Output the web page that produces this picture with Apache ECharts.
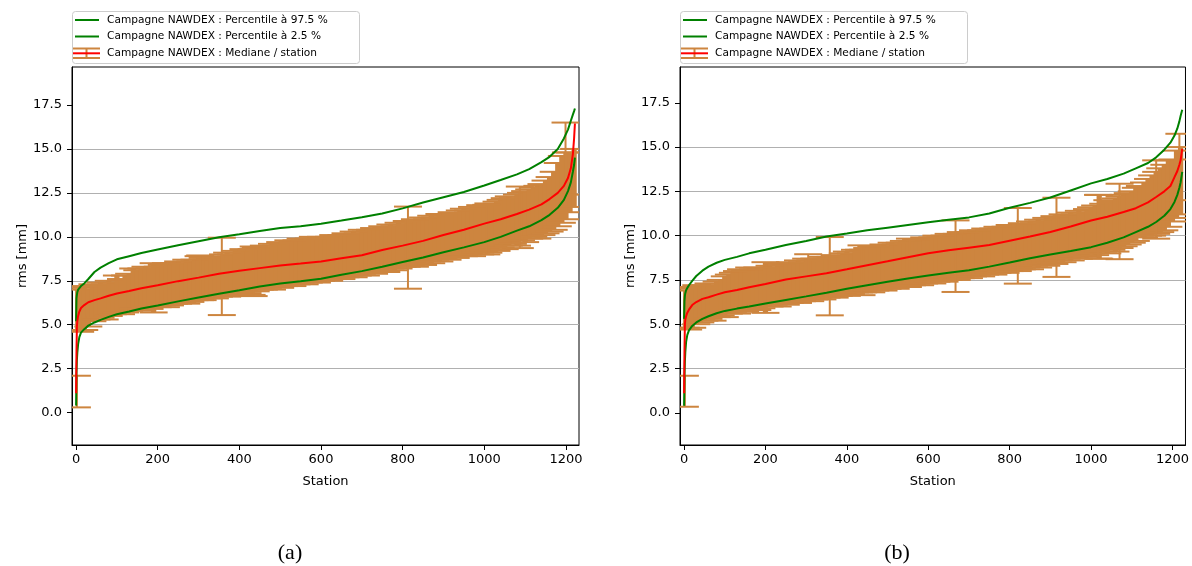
<!DOCTYPE html>
<html><head><meta charset="utf-8">
<script src="https://cdn.jsdelivr.net/npm/echarts@6/dist/echarts.min.js"></script>
<style>html,body{margin:0;padding:0;background:#fff}#c{width:1192px;height:566px}</style>
</head><body><div id="c"></div>
<script>
// ---------- data ----------
const xTicks = [0, 200, 400, 600, 800, 1000, 1200];
const yTicks = [0, 2.5, 5, 7.5, 10, 12.5, 15, 17.5];
const legendLabels = [
  'Campagne NAWDEX : Percentile à 97.5 %',
  'Campagne NAWDEX : Percentile à 2.5 %',
  'Campagne NAWDEX : Mediane / station'
];
const captions = ['(a)', '(b)'];

// curve sample stations
const gridA = [0,1,2,3,5,8,12,20,30,45,60,80,100,130,160,200,250,300,350,400,450,500,550,600,650,700,750,800,850,900,950,1000,1040,1080,1110,1140,1160,1180,1195,1205,1212,1217,1220,1222];
const upperA = [5.2,6.5,6.7,6.85,7.0,7.1,7.2,7.35,7.6,8.0,8.25,8.5,8.72,8.9,9.08,9.28,9.52,9.75,9.98,10.15,10.33,10.5,10.6,10.75,10.93,11.12,11.33,11.62,11.95,12.25,12.55,12.92,13.23,13.55,13.85,14.25,14.55,15.0,15.6,16.1,16.6,16.95,17.15,17.3];
const lowerA = [0.4,2.2,3.0,3.4,3.9,4.3,4.55,4.75,4.95,5.13,5.28,5.45,5.6,5.75,5.92,6.1,6.33,6.55,6.76,6.96,7.17,7.35,7.48,7.62,7.84,8.05,8.3,8.57,8.83,9.12,9.4,9.7,10.0,10.35,10.6,10.95,11.25,11.65,12.1,12.6,13.1,13.7,14.1,14.5];
const medianA = [1.1,3.5,4.9,5.2,5.5,5.75,5.95,6.12,6.28,6.4,6.5,6.65,6.78,6.92,7.08,7.25,7.48,7.68,7.9,8.07,8.22,8.37,8.48,8.6,8.78,8.95,9.25,9.5,9.77,10.1,10.4,10.75,11.0,11.3,11.55,11.85,12.15,12.5,12.9,13.35,13.9,14.7,15.6,16.45];

const gridB = [0,1,2,3,5,8,12,20,30,45,60,80,100,130,160,200,250,300,350,400,450,500,550,600,650,700,750,800,850,900,950,1000,1040,1080,1110,1140,1160,1180,1195,1205,1212,1217,1220,1224];
const upperB = [5.3,6.3,6.6,6.75,6.92,7.05,7.2,7.45,7.72,8.02,8.25,8.47,8.63,8.8,9.0,9.2,9.47,9.7,9.95,10.12,10.3,10.45,10.6,10.75,10.9,11.03,11.25,11.57,11.85,12.15,12.55,12.95,13.2,13.5,13.8,14.1,14.42,14.85,15.25,15.65,16.05,16.45,16.75,17.1];
const lowerB = [0.4,2.0,2.9,3.4,4.0,4.4,4.65,4.9,5.1,5.3,5.45,5.62,5.75,5.88,6.0,6.17,6.37,6.57,6.78,7.0,7.2,7.4,7.58,7.75,7.9,8.05,8.25,8.48,8.72,8.93,9.13,9.35,9.6,9.9,10.2,10.5,10.77,11.12,11.5,11.9,12.3,12.7,13.0,13.6];
const medianB = [1.1,3.5,5.0,5.25,5.45,5.65,5.82,6.08,6.25,6.43,6.52,6.67,6.8,6.93,7.09,7.27,7.52,7.7,7.88,8.1,8.33,8.55,8.78,9.0,9.17,9.32,9.47,9.71,9.95,10.2,10.52,10.85,11.07,11.33,11.55,11.88,12.18,12.5,12.8,13.3,13.65,14.0,14.25,14.9];

// error bars per station (sampled)
const bandSt = [4,10,20,30,40,50,60,70,80,90,100,110,120,130,140,150,160,170,180,190,200,210,220,230,240,250,260,270,280,290,300,310,320,330,340,350,360,370,380,390,400,410,420,430,440,450,460,470,480,490,500,510,520,530,540,550,560,570,580,590,600,610,620,630,640,650,660,670,680,690,700,710,720,730,740,750,760,770,780,790,800,810,820,830,840,850,860,870,880,890,900,910,920,930,940,950,960,970,980,990,1000,1010,1020,1030,1040,1050,1060,1070,1080,1090,1100,1110,1120,1130,1140,1150,1160,1170,1180,1190,1200,1210,1220];
const bandLoA = [4.7,4.6,4.7,4.9,5.2,5.3,5.4,5.3,5.5,5.6,5.7,5.6,5.7,5.8,5.9,5.8,5.9,6.0,5.9,5.7,6.0,6.1,6.0,6.1,6.2,6.2,6.3,6.2,6.3,6.4,6.5,6.4,6.5,6.6,6.5,6.6,6.7,6.6,6.7,6.8,6.7,6.9,6.8,6.7,6.9,7.0,7.0,7.1,7.0,7.2,7.1,7.2,7.3,7.2,7.3,7.4,7.3,7.4,7.5,7.4,7.5,7.6,7.5,7.6,7.7,7.6,7.7,7.8,7.7,7.8,7.9,7.8,8.0,7.9,8.0,8.1,8.0,8.2,8.1,8.2,8.3,8.3,8.4,8.3,8.5,8.4,8.6,8.5,8.7,8.6,8.8,8.7,8.9,8.8,9.0,8.9,9.0,8.9,9.1,9.0,9.2,9.1,9.3,9.2,9.4,9.3,9.5,9.6,9.5,9.8,9.7,9.9,10.0,9.9,10.1,10.2,10.3,10.4,10.6,10.8,11.0,11.4,11.7];
const bandHiA = [7.0,7.1,7.2,7.0,7.3,7.2,7.4,7.3,7.5,7.4,7.8,7.6,7.8,7.9,8.2,8.1,8.2,8.3,8.2,8.5,8.3,8.4,8.5,8.4,8.5,8.6,8.5,8.7,8.6,8.7,8.9,8.8,8.7,8.8,8.9,8.8,9.0,9.1,9.0,9.2,9.1,9.3,9.2,9.3,9.4,9.3,9.5,9.4,9.6,9.5,9.7,9.6,9.8,9.7,9.8,9.9,9.8,9.9,10.0,9.9,10.0,9.9,10.0,10.1,10.0,10.1,10.2,10.1,10.3,10.2,10.4,10.3,10.4,10.5,10.4,10.6,10.5,10.7,10.6,10.8,10.7,10.9,10.8,11.0,10.9,11.1,11.0,11.2,11.1,11.3,11.2,11.3,11.4,11.3,11.5,11.6,11.5,11.7,11.6,11.8,11.7,11.9,11.8,12.0,12.1,12.2,12.3,12.2,12.4,12.5,12.6,12.7,12.8,12.9,13.0,13.2,13.4,13.7,14.2,14.6,14.8,14.8,15.0];
const bandLoB = [4.8,4.7,4.8,5.0,5.1,5.2,5.3,5.2,5.4,5.5,5.4,5.6,5.7,5.6,5.8,5.7,5.8,5.9,5.8,5.9,5.64,6.0,6.1,6.0,6.2,6.1,6.2,6.3,6.2,6.3,6.4,6.3,6.4,6.5,6.4,6.5,6.6,6.5,6.6,6.7,6.6,6.7,6.8,6.8,6.8,6.9,6.8,6.9,7.0,6.9,7.0,7.1,7.0,7.1,7.2,7.1,7.2,7.3,7.2,7.3,7.4,7.3,7.4,7.5,7.4,7.5,7.6,7.5,7.6,7.7,7.6,7.7,7.8,7.7,7.8,7.9,7.8,7.9,8.0,7.9,8.0,8.1,8.0,8.1,8.2,8.1,8.3,8.2,8.4,8.3,8.5,8.4,8.6,8.5,8.7,8.6,8.8,8.7,8.9,8.8,9.0,8.9,8.7,9.1,9.0,9.2,9.1,9.3,9.4,9.5,9.6,9.7,10.0,9.9,10.0,10.0,10.1,10.2,10.3,10.5,10.8,11.0,11.2];
const bandHiB = [6.9,7.1,7.0,7.2,7.1,7.2,7.3,7.2,7.4,7.5,7.7,7.8,7.9,8.0,8.1,8.0,8.2,8.1,8.2,8.1,8.5,8.3,8.2,8.4,8.3,8.4,8.5,8.4,8.6,8.5,8.7,8.6,8.7,8.6,8.8,8.7,8.8,8.9,8.8,9.0,9.1,9.0,9.2,9.2,9.2,9.3,9.4,9.3,9.4,9.5,9.4,9.6,9.5,9.6,9.7,9.6,9.7,9.8,9.7,9.9,9.8,9.9,10.0,9.9,10.0,10.1,10.0,10.1,10.2,10.1,10.2,10.3,10.2,10.3,10.4,10.3,10.4,10.5,10.4,10.5,10.6,10.5,10.6,10.7,10.6,10.8,10.7,10.9,10.8,11.0,10.9,11.1,11.0,11.2,11.1,11.3,11.2,11.4,11.3,11.5,11.6,11.7,12.3,11.8,12.0,11.9,12.1,12.2,12.3,12.4,12.5,12.7,12.8,13.0,13.2,13.4,13.6,13.8,14.0,14.25,14.3,14.8,15.0];

// isolated long error bars
const spikeStA = [2, 304, 357, 435, 813, 1005, 1087, 1199];
const spikeLoA = [0.3, 6.4, 5.55, 6.63, 7.05, 9.0, 9.36, 12.4];
const spikeHiA = [2.1, 8.94, 9.95, 9.45, 11.72, 11.82, 12.86, 16.5];
const spikeStB = [2, 305, 358, 436, 555, 667, 820, 915, 1017, 1070, 1160, 1217];
const spikeLoB = [0.34, 6.6, 5.5, 6.64, 7.5, 6.82, 7.29, 7.67, 8.7, 8.67, 9.83, 12.0];
const spikeHiB = [2.09, 8.95, 9.92, 9.45, 9.83, 10.86, 11.56, 12.14, 12.3, 12.93, 14.25, 15.75];

// ---------- chart ----------
const FONT = 'DejaVu Sans';
const GREEN = '#008000', RED = '#ff0000', ORANGE = '#cd853f', GRIDC = '#b0b0b0';
const pairs = (xs, ys) => xs.map((x, i) => [x, ys[i]]);
const triples = (xs, lo, hi) => xs.map((x, i) => [x, lo[i], hi[i]]);

function errRender(bodyUnits) {
  return function (params, api) {
    const s = api.value(0), lo = api.value(1), hi = api.value(2);
    const a = api.coord([s, lo]), b = api.coord([s, hi]);
    const cap = 14;
    const ch = [];
    if (bodyUnits) {
      const w = api.size([bodyUnits, 0])[0] + 1.2;
      ch.push({type: 'rect', shape: {x: a[0] - w / 2, y: b[1], width: w, height: a[1] - b[1]}, style: {fill: ORANGE, stroke: null}});
    } else {
      ch.push({type: 'line', shape: {x1: a[0], y1: a[1], x2: b[0], y2: b[1]}, style: {stroke: ORANGE, lineWidth: 2}});
    }
    ch.push({type: 'line', shape: {x1: a[0] - cap, y1: a[1], x2: a[0] + cap, y2: a[1]}, style: {stroke: ORANGE, lineWidth: 2}});
    ch.push({type: 'line', shape: {x1: b[0] - cap, y1: b[1], x2: b[0] + cap, y2: b[1]}, style: {stroke: ORANGE, lineWidth: 2}});
    return {type: 'group', children: ch};
  };
}

function xAxisCfg(gi) {
  return {
    type: 'value', gridIndex: gi, min: -10, max: 1232,
    name: 'Station', nameLocation: 'middle', nameGap: 30,
    nameTextStyle: {fontFamily: FONT, fontSize: 13, color: '#000'},
    axisLine: {onZero: false, lineStyle: {color: '#000', width: 1}},
    axisTick: {show: true, customValues: xTicks, length: 5, lineStyle: {color: '#000'}},
    axisLabel: {customValues: xTicks, fontFamily: FONT, fontSize: 13, color: '#000', margin: 8,
      formatter: v => String(Math.round(v))},
    splitLine: {show: false}
  };
}
function yAxisCfg(gi, mn, mx) {
  return {
    type: 'value', gridIndex: gi, min: mn, max: mx, minInterval: 2.5, maxInterval: 2.5,
    name: 'rms [mm]', nameLocation: 'middle', nameGap: 42,
    nameTextStyle: {fontFamily: FONT, fontSize: 13, color: '#000'},
    axisLine: {onZero: false, lineStyle: {color: '#000', width: 1}},
    axisTick: {show: true, customValues: yTicks, length: 5, lineStyle: {color: '#000'}},
    axisLabel: {customValues: yTicks, fontFamily: FONT, fontSize: 13, color: '#000', margin: 10,
      formatter: v => Number(v).toFixed(1)},
    splitLine: {show: true, showMinLine: false, showMaxLine: false, lineStyle: {color: GRIDC, width: 1}}
  };
}

function panelSeries(gi, grid, up, low, med, loB, hiB, sSt, sLo, sHi) {
  return [
    {type: 'custom', name: legendLabels[2] + ' bars', xAxisIndex: gi, yAxisIndex: gi, clip: true, z: 2,
      renderItem: errRender(10), encode: {x: 0, y: [1, 2]}, data: triples(bandSt, loB, hiB), silent: true},
    {type: 'custom', name: legendLabels[2] + ' bars2', xAxisIndex: gi, yAxisIndex: gi, clip: true, z: 2,
      renderItem: errRender(0), encode: {x: 0, y: [1, 2]}, data: triples(sSt, sLo, sHi), silent: true},
    {type: 'line', name: legendLabels[0], xAxisIndex: gi, yAxisIndex: gi, z: 3, symbol: 'none', silent: true,
      lineStyle: {color: GREEN, width: 2}, data: pairs(grid, up)},
    {type: 'line', name: legendLabels[1], xAxisIndex: gi, yAxisIndex: gi, z: 3, symbol: 'none', silent: true,
      lineStyle: {color: GREEN, width: 2}, data: pairs(grid, low)},
    {type: 'line', name: legendLabels[2], xAxisIndex: gi, yAxisIndex: gi, z: 4, symbol: 'none', silent: true,
      lineStyle: {color: RED, width: 2}, data: pairs(grid, med)}
  ];
}

function legendGraphic(x0) {
  const t = (y, s) => ({type: 'text', x: x0 + 35, y: y, z: 11,
    style: {text: s, fontFamily: FONT, fontSize: 10.6, fill: '#000', verticalAlign: 'middle'}});
  const l = (x1, y1, x2, y2, c) => ({type: 'line', z: 11, shape: {x1, y1, x2, y2}, style: {stroke: c, lineWidth: 2}});
  return [
    {type: 'rect', z: 10, shape: {x: x0 + 0.5, y: 11.5, width: 287, height: 52, r: 3},
      style: {fill: 'rgba(255,255,255,0.8)', stroke: '#cccccc', lineWidth: 1}},
    l(x0 + 3, 20, x0 + 27, 20, GREEN), t(20, legendLabels[0]),
    l(x0 + 3, 36.5, x0 + 27, 36.5, GREEN), t(36.5, legendLabels[1]),
    l(x0 + 1, 48.5, x0 + 28, 48.5, ORANGE), l(x0 + 1, 58, x0 + 28, 58, ORANGE),
    l(x0 + 14.5, 48.5, x0 + 14.5, 58, ORANGE), l(x0 + 1, 53.3, x0 + 28, 53.3, RED),
    t(53.3, legendLabels[2])
  ];
}

const chart = echarts.init(document.getElementById('c'), null, {renderer: 'canvas'});
chart.setOption({
  animation: false,
  backgroundColor: '#fff',
  grid: [
    {left: 72, top: 67, width: 507, height: 378, show: true, borderColor: '#000', borderWidth: 1, backgroundColor: 'transparent'},
    {left: 680, top: 67, width: 507, height: 378, show: true, borderColor: '#000', borderWidth: 1, backgroundColor: 'transparent'}
  ],
  xAxis: [xAxisCfg(0), xAxisCfg(1)],
  yAxis: [yAxisCfg(0, -1.84, 19.66), yAxisCfg(1, -1.82, 19.52)],
  series: [].concat(
    panelSeries(0, gridA, upperA, lowerA, medianA, bandLoA, bandHiA, spikeStA, spikeLoA, spikeHiA),
    panelSeries(1, gridB, upperB, lowerB, medianB, bandLoB, bandHiB, spikeStB, spikeLoB, spikeHiB)
  ),
  graphic: [].concat(
    legendGraphic(72),
    legendGraphic(680),
    [
      {type: 'text', x: 290, y: 553, style: {text: captions[0], fontFamily: 'Liberation Serif', fontSize: 22, fill: '#000', align: 'center', verticalAlign: 'middle'}},
      {type: 'text', x: 897, y: 553, style: {text: captions[1], fontFamily: 'Liberation Serif', fontSize: 22, fill: '#000', align: 'center', verticalAlign: 'middle'}}
    ]
  )
});
</script>
</body></html>
